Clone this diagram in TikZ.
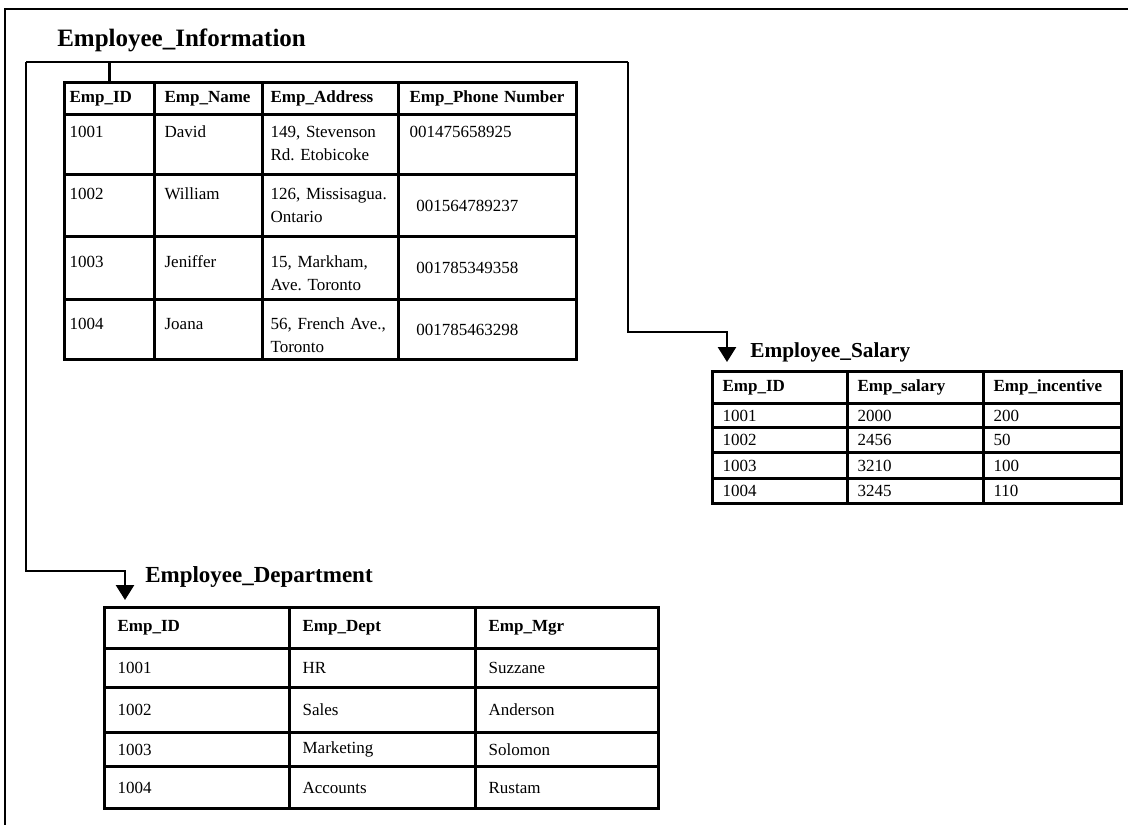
\documentclass[tikz,border=0pt]{standalone}
\usepackage{fontspec}
\setmainfont{Liberation Serif}
\usepackage{tikz}
\usetikzlibrary{matrix,calc,arrows.meta}
\frenchspacing
\newcommand\mytablefont{\fontsize{12.75}{17.25}\selectfont}
\newcommand\mytitlefont{\fontsize{17.25}{20}\selectfont\bfseries}
\pgfkeys{tikz/mytable/.style={matrix of nodes,inner sep=0pt,column sep=-2pt,row sep=-2pt,
    nodes={draw,line width=2pt,anchor=center,inner ysep=0pt,align=left,font=\mytablefont}}}
\pgfkeys{tikz/mytablehead/.style={nodes={font=\mytablefont\bfseries}}}
\pgfkeys{tikz/midcell/.style={text height={},text depth={}}}
\pgfkeys{tikz/mytitle/.style={anchor=base west,inner sep=0pt,font=\mytitlefont}}
\pgfkeys{tikz/mylink/.style={line width=2pt}}
\pgfkeys{tikz/myarrow/.style={mylink,-{Triangle[width=13.5pt,length=11.25pt]}}}

\begin{document}
\begin{tikzpicture}[x=0.75pt,y=-0.75pt]
    \useasboundingbox (0,0) rectangle (1128,825);
    \draw[line width=1.5pt] (1128,9) -- (5,9) -- (5,825);

    \matrix[mytable,anchor=north west,
        column 1/.style={nodes={inner xsep=3.75pt,text width=60pt}},
        column 2/.style={nodes={inner xsep=7.5pt,text width=66pt}},
        column 3/.style={nodes={inner xsep=6pt,text width=90pt}},
        column 4/.style={nodes={inner xsep=8.25pt,text width=117pt}},
        row 1/.style={mytablehead,nodes={minimum height=24pt}},
        row 2/.style={nodes={minimum height=45pt,text height=17.25pt,text depth=27.75pt}},
        row 3/.style={nodes={minimum height=46.5pt,text height=18.75pt,text depth=27.75pt}},
        row 4/.style={nodes={minimum height=47.25pt,text height=23.25pt,text depth=24pt}},
        row 5/.style={nodes={minimum height=45pt,text height=22.5pt,text depth=22.5pt}}]
        (info) at (63,81) {
        Emp\_ID & Emp\_Name & Emp\_Address & Emp\_Phone Number \\
        1001 & David & {149, Stevenson\\Rd. Etobicoke} & 001475658925 \\
        1002 & William & {126, Missisagua.\\Ontario} & |[midcell]| \hspace*{5pt}001564789237 \\
        1003 & Jeniffer & {15, Markham,\\Ave. Toronto} & |[midcell]| \hspace*{5pt}001785349358 \\
        1004 & Joana & {56, French Ave.,\\Toronto} & |[midcell]| \hspace*{5pt}001785463298 \\
    };

    \matrix[mytable,anchor=north west,
        nodes={inner xsep=7.5pt},
        column 1/.style={nodes={text width=86.25pt}},
        column 2/.style={nodes={text width=87pt}},
        column 3/.style={nodes={text width=88.5pt}},
        row 1/.style={mytablehead,nodes={minimum height=24pt}},
        row 2/.style={nodes={minimum height=18pt}},
        row 3/.style={nodes={minimum height=18.75pt}},
        row 4/.style={nodes={minimum height=19.5pt}},
        row 5/.style={nodes={minimum height=18.75pt}}]
        (sal) at (711,370) {
        Emp\_ID & Emp\_salary & Emp\_incentive \\
        1001 & 2000 & 200 \\
        1002 & 2456 & 50 \\
        1003 & 3210 & 100 \\
        1004 & 3245 & 110 \\
    };

    \matrix[mytable,anchor=north west,
        nodes={inner xsep=9.75pt},
        column 1/.style={nodes={text width=119.25pt}},
        column 2/.style={nodes={text width=120pt}},
        column 3/.style={nodes={text width=117.75pt}},
        row 1/.style={mytablehead,nodes={minimum height=30.75pt}},
        row 2/.style={nodes={minimum height=29.25pt}},
        row 3/.style={nodes={minimum height=33.75pt}},
        row 4/.style={nodes={minimum height=25.5pt}},
        row 5/.style={nodes={minimum height=31.5pt}}]
        (dept) at (103,606) {
        Emp\_ID & Emp\_Dept & Emp\_Mgr \\
        1001 & HR & Suzzane \\
        1002 & Sales & Anderson \\
        1003 & Marketing & Solomon \\
        1004 & Accounts & Rustam \\
    };

    \node[mytitle,font=\fontsize{18.75}{20}\selectfont\bfseries] (infotitle) at (57,46) {Employee\_Information};
    \node[mytitle,font=\fontsize{16}{20}\selectfont\bfseries] (saltitle) at (750,357) {Employee\_Salary};
    \node[mytitle] (depttitle) at (145,582) {Employee\_Department};

    % links from the key table
    \coordinate (lt) at (26,62);
    \coordinate (rt) at (628,62);
    \coordinate (saltip) at ($(sal.north west)+(16,-8)$);
    \coordinate (depttip) at ($(dept.north west)+(22,-6)$);
    \draw[mylink] (lt) -- (rt);
    \draw[mylink] (info-1-1.north) -- (info-1-1.north |- lt);
    \draw[myarrow] (rt) |- ($(saltip)+(0,-30)$) -- (saltip);
    \draw[myarrow] (lt) |- ($(depttip)+(0,-29)$) -- (depttip);
\end{tikzpicture}
\end{document}
